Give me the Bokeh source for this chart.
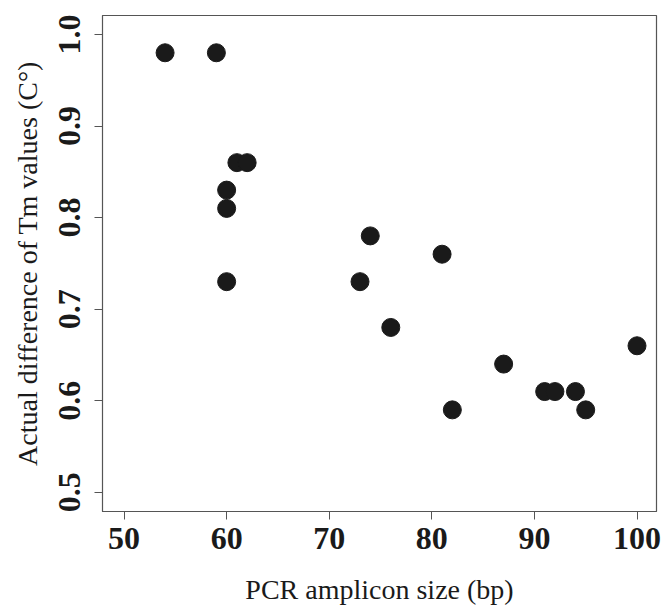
from bokeh.plotting import figure
from bokeh.embed import file_html
from bokeh.resources import INLINE
from bokeh.models import Range1d, FixedTicker, NumeralTickFormatter

amplicon_size = [54, 59, 61, 62, 60, 60, 60, 73, 74, 76, 81, 82, 87, 91, 92, 94, 95, 100]
tm_difference = [0.98, 0.98, 0.86, 0.86, 0.83, 0.81, 0.73, 0.73, 0.78, 0.68, 0.76, 0.59, 0.64, 0.61, 0.61, 0.61, 0.59, 0.66]
x_ticks = [50, 60, 70, 80, 90, 100]
y_ticks = [0.5, 0.6, 0.7, 0.8, 0.9, 1.0]

p = figure(width=664, height=607, output_backend="svg", toolbar_location=None,
           x_range=Range1d(47.9, 101.9), y_range=Range1d(0.479, 1.0207),
           min_border_left=102, min_border_right=8, min_border_top=15, min_border_bottom=96)

p.scatter(amplicon_size, tm_difference, size=18, color="#1a1a1a", line_color="#1a1a1a")

p.grid.visible = False
p.outline_line_color = "#555555"
p.outline_line_width = 1.2

FONT = "Liberation Serif"
for ax in (p.xaxis[0], p.yaxis[0]):
    ax.axis_line_color = "#555555"
    ax.major_tick_line_color = "#555555"
    ax.minor_tick_line_color = None
    ax.major_tick_in = 0
    ax.major_tick_out = 8
    ax.major_label_text_font = FONT
    ax.major_label_text_font_style = "bold"
    ax.major_label_text_font_size = "32px"
    ax.major_label_text_color = "#1a1a1a"
    ax.axis_label_text_font = FONT
    ax.axis_label_text_font_style = "normal"
    ax.axis_label_text_font_size = "28px"
    ax.axis_label_text_color = "#1a1a1a"

p.xaxis.ticker = FixedTicker(ticks=x_ticks)
p.yaxis.ticker = FixedTicker(ticks=y_ticks)
p.yaxis.formatter = NumeralTickFormatter(format="0.0")
p.yaxis.major_label_orientation = "vertical"
p.xaxis.axis_label = "PCR amplicon size (bp)"
p.yaxis.axis_label = "Actual difference of Tm values (C°)"
p.xaxis.major_label_standoff = 8
p.xaxis.axis_label_standoff = 22
p.yaxis.major_label_standoff = 14
p.yaxis.axis_label_standoff = 14

open("out.html", "w").write(file_html(p, INLINE))
